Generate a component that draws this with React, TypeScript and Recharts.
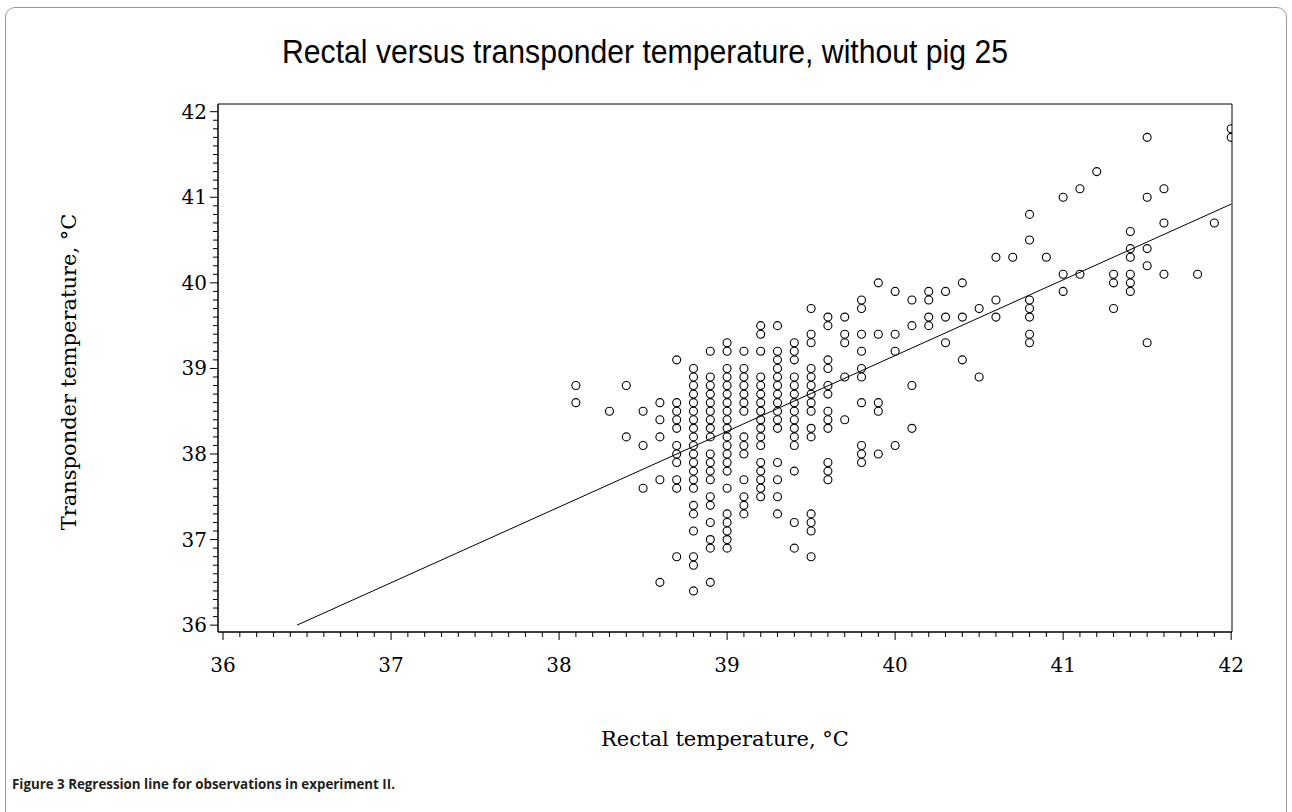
import { ScatterChart, Scatter, XAxis, YAxis, ReferenceLine, ReferenceArea } from 'recharts'

// rectal temperature (x) and the transponder readings (y) observed at each one
const rectalTemps = [
  38.1, 38.3, 38.4, 38.5, 38.6, 38.7, 38.8, 38.9, 39.0, 39.1, 39.2, 39.3, 39.4, 39.5,
  39.6, 39.7, 39.8, 39.9, 40.0, 40.1, 40.2, 40.3, 40.4, 40.5, 40.6, 40.7, 40.8, 40.9,
  41.0, 41.1, 41.2, 41.3, 41.4, 41.5, 41.6, 41.8, 41.9, 42.0,
]

const transponderTemps = [
  [38.8, 38.6],
  [38.5],
  [38.8, 38.2],
  [38.5, 38.1, 37.6],
  [38.6, 38.4, 38.2, 37.7, 36.5],
  [39.1, 38.6, 38.5, 38.4, 38.3, 38.1, 38.0, 37.9, 37.7, 37.6, 36.8],
  [39.0, 38.9, 38.8, 38.7, 38.6, 38.5, 38.4, 38.3, 38.2, 38.1, 38.0, 37.9, 37.8, 37.7, 37.6, 37.4, 37.3, 37.1, 36.8, 36.7, 36.4],
  [39.2, 38.9, 38.8, 38.7, 38.6, 38.5, 38.4, 38.3, 38.2, 38.0, 37.9, 37.8, 37.7, 37.5, 37.4, 37.2, 37.0, 36.9, 36.5],
  [39.3, 39.2, 39.0, 38.9, 38.8, 38.7, 38.6, 38.5, 38.4, 38.3, 38.2, 38.1, 38.0, 37.9, 37.8, 37.6, 37.3, 37.2, 37.1, 37.0, 36.9],
  [39.2, 39.0, 38.9, 38.8, 38.7, 38.6, 38.5, 38.2, 38.1, 38.0, 37.7, 37.5, 37.4, 37.3],
  [39.5, 39.4, 39.2, 38.9, 38.8, 38.7, 38.6, 38.5, 38.4, 38.3, 38.2, 38.1, 37.9, 37.8, 37.7, 37.6, 37.5],
  [39.5, 39.2, 39.1, 39.0, 38.9, 38.8, 38.7, 38.6, 38.5, 38.4, 38.3, 37.9, 37.7, 37.5, 37.3],
  [39.3, 39.2, 39.1, 38.9, 38.8, 38.7, 38.6, 38.5, 38.4, 38.3, 38.2, 38.1, 37.8, 37.2, 36.9],
  [39.7, 39.4, 39.3, 39.0, 38.9, 38.8, 38.7, 38.6, 38.5, 38.3, 38.2, 37.3, 37.2, 37.1, 36.8],
  [39.6, 39.5, 39.1, 39.0, 38.8, 38.7, 38.5, 38.4, 38.3, 37.9, 37.8, 37.7],
  [39.6, 39.4, 39.3, 38.9, 38.4],
  [39.8, 39.7, 39.4, 39.2, 39.0, 38.9, 38.6, 38.1, 38.0, 37.9],
  [40.0, 39.4, 38.6, 38.5, 38.0],
  [39.9, 39.4, 39.2, 38.1],
  [39.8, 39.5, 38.8, 38.3],
  [39.9, 39.8, 39.6, 39.5],
  [39.9, 39.6, 39.3],
  [40.0, 39.6, 39.1],
  [39.7, 38.9],
  [40.3, 39.8, 39.6],
  [40.3],
  [40.8, 40.5, 39.8, 39.7, 39.6, 39.4, 39.3],
  [40.3],
  [41.0, 40.1, 39.9],
  [41.1, 40.1],
  [41.3],
  [40.1, 40.0, 39.7],
  [40.6, 40.4, 40.3, 40.1, 40.0, 39.9],
  [41.7, 41.0, 40.4, 40.2, 39.3],
  [41.1, 40.7, 40.1],
  [40.1],
  [40.7],
  [41.8, 41.7],
]

// fitted regression line, end points
const regressionLine = [{ x: 36.44, y: 36.0 }, { x: 42.0, y: 40.92 }]

const xDomain = [35.97, 42.005]
const yDomain = [35.92, 42.09]

// every 0.1 gets a tick, whole degrees get a label
const tenths = (from: number, to: number) =>
  Array.from({ length: Math.round((to - from) * 10) + 1 }, (_, i) => Math.round(from * 10 + i) / 10)
const xTicks = tenths(36, 42)
const yTicks = tenths(36, 42)

const points = rectalTemps.flatMap((x, i) => transponderTemps[i].map(y => ({ x, y })))

const serif = '"DejaVu Serif", serif'
const isMajor = (v: number) => Math.abs(v - Math.round(v)) < 1e-6

const XTick = ({ x, y, payload }: any) => {
  const major = isMajor(payload.value)
  return (
    <g>
      <line x1={x} y1={y} x2={x} y2={y + (major ? 8 : 5)} stroke="#000" />
      {major && (
        <text x={x} y={y + 40} textAnchor="middle" fontFamily={serif} fontSize={20} fill="#000">
          {Math.round(payload.value)}
        </text>
      )}
    </g>
  )
}

const YTick = ({ x, y, payload }: any) => {
  const major = isMajor(payload.value)
  return (
    <g>
      <line x1={x} y1={y} x2={x - (major ? 8 : 5)} y2={y} stroke="#000" />
      {major && (
        <text x={x - 11} y={y + 7} textAnchor="end" fontFamily={serif} fontSize={20} fill="#000">
          {Math.round(payload.value)}
        </text>
      )}
    </g>
  )
}

const Ring = ({ cx, cy }: any) => (
  <circle cx={cx} cy={cy} r={4} fill="none" stroke="#000" strokeWidth={1.1} />
)

export default function App() {
  return (
    <div style={{ position: 'absolute', left: 0, top: 0, width: 1292, height: 812, overflow: 'hidden', background: '#fff' }}>
      <div style={{
        position: 'absolute', left: 5, top: 7, width: 1280, height: 900,
        border: '1px solid #999', borderRadius: 10,
      }} />
      <div style={{ position: 'absolute', left: 0, top: 0 }}>
        <ScatterChart width={1292} height={812} margin={{ top: 104, right: 60, bottom: 120, left: 138 }}>
          <XAxis
            type="number"
            dataKey="x"
            domain={xDomain}
            allowDataOverflow
            ticks={xTicks}
            interval={0}
            tickSize={0}
            tickMargin={0}
            tickLine={false}
            tick={<XTick />}
            height={60}
            axisLine={{ stroke: '#000' }}
          />
          <YAxis
            type="number"
            dataKey="y"
            domain={yDomain}
            allowDataOverflow
            ticks={yTicks}
            interval={0}
            tickSize={0}
            tickMargin={0}
            tickLine={false}
            tick={<YTick />}
            width={80}
            axisLine={{ stroke: '#000' }}
          />
          <ReferenceArea
            x1={xDomain[0]} x2={xDomain[1]} y1={yDomain[0]} y2={yDomain[1]}
            fill="none" fillOpacity={0} stroke="#000" strokeWidth={1} ifOverflow="visible"
          />
          <ReferenceLine segment={regressionLine} stroke="#000" strokeWidth={1} ifOverflow="visible" />
          <Scatter data={points} shape={<Ring />} isAnimationActive={false} />
        </ScatterChart>
      </div>
      <svg width={1292} height={812} style={{ position: 'absolute', left: 0, top: 0, pointerEvents: 'none' }}>
        <text
          x={645} y={63} textAnchor="middle" fontFamily='"Liberation Sans", Arial, sans-serif' fontSize={33} fill="#000"
          textLength={726} lengthAdjust="spacingAndGlyphs"
        >
          Rectal versus transponder temperature, without pig 25
        </text>
        <text x={725} y={746} textAnchor="middle" fontFamily={serif} fontSize={21} fill="#000">
          Rectal temperature, °C
        </text>
        <text x={76} y={372} textAnchor="middle" fontFamily={serif} fontSize={21} fill="#000" transform="rotate(-90 76 372)">
          Transponder temperature, °C
        </text>
        <text
          x={12} y={789} fontFamily='"Open Sans", sans-serif' fontSize={14} fontWeight={700} fill="#231f20"
          textLength={383} lengthAdjust="spacingAndGlyphs"
        >
          Figure 3 Regression line for observations in experiment II.
        </text>
      </svg>
    </div>
  )
}
